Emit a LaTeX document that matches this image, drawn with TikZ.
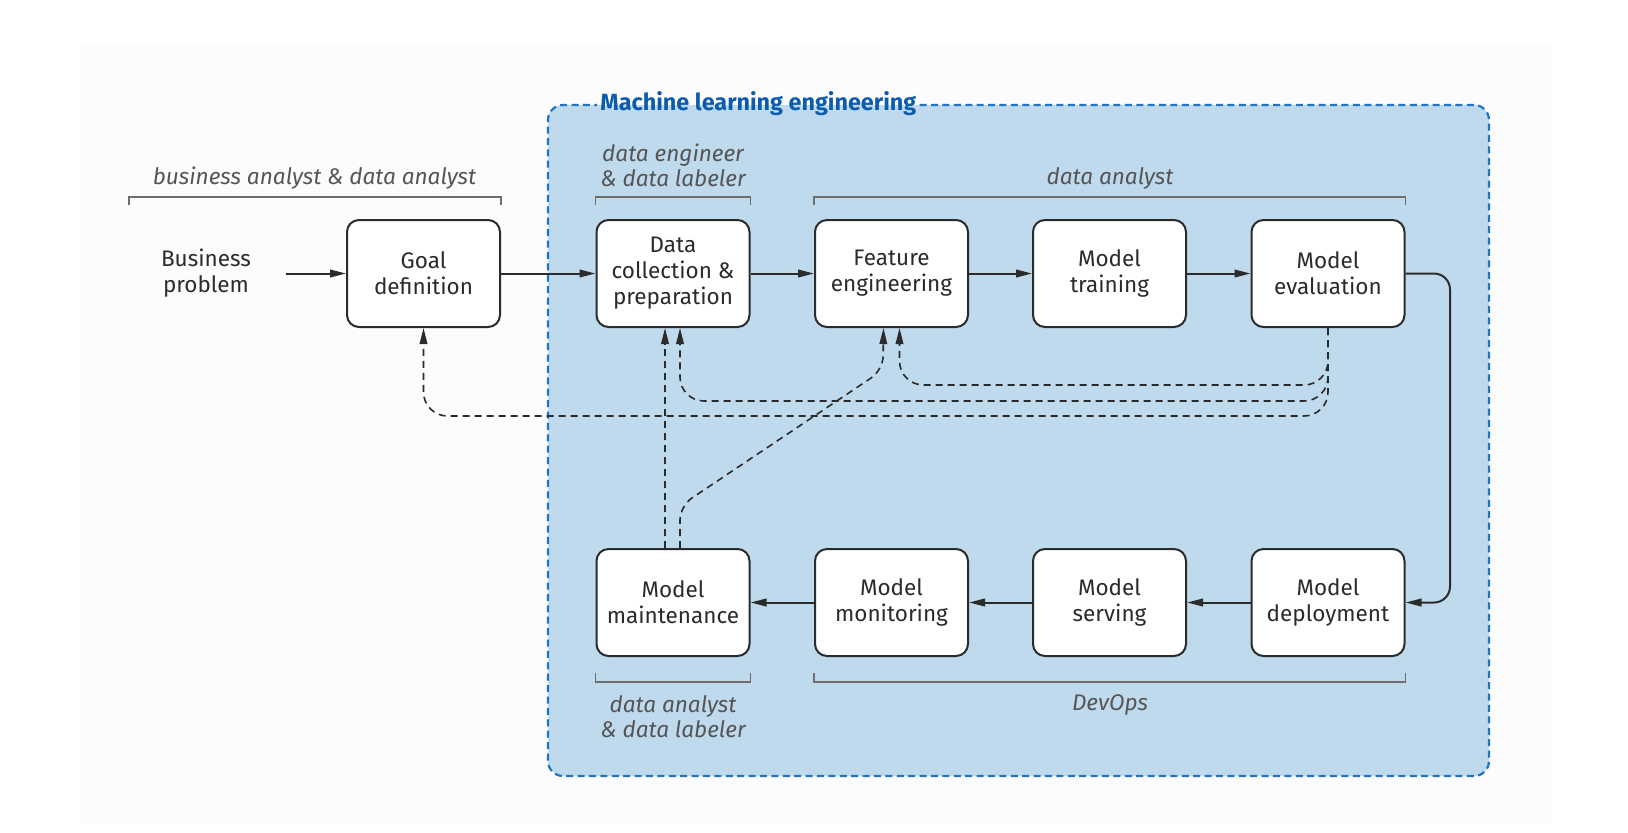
\documentclass[tikz,border=0pt]{standalone}
\usepackage{fontspec}
\setmainfont{Fira Sans}
\usetikzlibrary{arrows.meta}

\definecolor{mlfill}{HTML}{BFDAED}
\definecolor{mlborder}{HTML}{1F74C6}
\definecolor{mltitle}{HTML}{0B5CAF}
\definecolor{ink}{HTML}{2B2B2B}
\definecolor{rolegray}{HTML}{555555}
\definecolor{brackgray}{HTML}{6E6E6E}
\definecolor{panel}{HTML}{FCFCFC}

\tikzset{
  stage/.style={draw=ink, fill=white, line width=1pt, rounded corners=6pt,
    minimum width=76.5pt, minimum height=53.5pt, inner sep=0pt,
    align=center, text=ink, font=\fontsize{11.25}{13}\selectfont},
  plain/.style={align=center, text=ink, font=\fontsize{11.25}{13}\selectfont},
  role/.style={align=center, text=rolegray, font=\fontsize{11.3}{12.5}\selectfont\itshape},
  flow/.style={draw=ink, line width=1pt, -{Triangle[length=8pt,width=3.8pt]}},
  back/.style={flow, line width=0.8pt, dash pattern=on 3.5pt off 2.5pt, rounded corners=12pt},
  brace/.style={draw=brackgray, line width=0.8pt},
}

\begin{document}
\begin{tikzpicture}[x=0.5pt,y=-0.5pt]
        \def\rowtop{273.5}
        \def\rowbot{602.5}

        \useasboundingbox (0,0) rectangle (1628,832);
        \fill[panel] (81,43) rectangle (1552,824);

        %------------------
        % ML engineering area
        %------------------
        \fill[mlfill, rounded corners=7.5pt] (548,105) rectangle (1489,776);
        \node[anchor=west, inner xsep=1.5pt, text=mltitle,
              font=\fontsize{11.7}{13}\selectfont\bfseries] (mltitle) at (597,103.5)
              {Machine learning engineering};
        \draw[mlborder, line width=1.1pt, dash pattern=on 3.5pt off 2.2pt, rounded corners=7.5pt]
          (mltitle.east |- 0,105) -- (1489,105) -- (1489,776) -- (548,776)
          -- (548,105) -- (mltitle.west |- 0,105);

        %------------------
        % stages
        %------------------
        \node[plain] (biz) at (206,\rowtop) {Business\\problem};
        \node[stage] (goal) at (423.5,\rowtop) {Goal\\definition};
        \node[stage] (data) at (673,\rowtop) {Data\\collection \&\\preparation};
        \node[stage] (feat) at (891.5,\rowtop) {Feature\\engineering};
        \node[stage] (train) at (1109.5,\rowtop) {Model\\training};
        \node[stage] (eval) at (1328,\rowtop) {Model\\evaluation};

        \node[stage] (maint) at (673,\rowbot) {Model\\maintenance};
        \node[stage] (monitor) at (891.5,\rowbot) {Model\\monitoring};
        \node[stage] (serve) at (1109.5,\rowbot) {Model\\serving};
        \node[stage] (deploy) at (1328,\rowbot) {Model\\deployment};

        %------------------
        % roles
        %------------------
        \node[role] (roleBiz) at (314.5,178) {business analyst \& data analyst};
        \node[role] (roleEng) at (673,165.5) {data engineer\\\& data labeler};
        \node[role] (roleAna) at (1110,178) {data analyst};
        \node[role] (roleLab) at (673,717) {data analyst\\\& data labeler};
        \node[role] (roleOps) at (1110,705) {DevOps};

        \draw[brace] (129,205) -- (129,197) -- (goal.east |- 0,197) -- (goal.east |- 0,205);
        \draw[brace] (data.west |- 0,205) -- (data.west |- 0,197) -- (data.east |- 0,197) -- (data.east |- 0,205);
        \draw[brace] (feat.west |- 0,205) -- (feat.west |- 0,197) -- (eval.east |- 0,197) -- (eval.east |- 0,205);
        \draw[brace] (maint.west |- 0,673) -- (maint.west |- 0,682) -- (maint.east |- 0,682) -- (maint.east |- 0,673);
        \draw[brace] (monitor.west |- 0,673) -- (monitor.west |- 0,682) -- (deploy.east |- 0,682) -- (deploy.east |- 0,673);

        %------------------
        % main flow
        %------------------
        \draw[flow] ([xshift=14pt]biz.east) -- (goal.west);
        \draw[flow] (goal.east) -- (data.west);
        \draw[flow] (data.east) -- (feat.west);
        \draw[flow] (feat.east) -- (train.west);
        \draw[flow] (train.east) -- (eval.west);
        \draw[flow, rounded corners=8pt] (eval.east) -- ++(44.5,0) |- (deploy.east);
        \draw[flow] (deploy.west) -- (serve.east);
        \draw[flow] (serve.west) -- (monitor.east);
        \draw[flow] (monitor.west) -- (maint.east);

        %------------------
        % feedback (dashed)
        %------------------
        \draw[back] (eval.south) -- ++(0,57) -| ([xshift=4pt]feat.south);
        \draw[back] (eval.south) -- ++(0,73) -| ([xshift=3.5pt]data.south);
        \draw[back] (eval.south) -- ++(0,88) -| (goal.south);
        \draw[back] ([xshift=-4pt]maint.north) -- ([xshift=-4pt]data.south);
        \draw[back, rounded corners=7pt] ([xshift=3.5pt]maint.north) -- ++(0,-42)
          -- ++(203,-136) -- ([xshift=-4pt]feat.south);
      \end{tikzpicture}
\end{document}
